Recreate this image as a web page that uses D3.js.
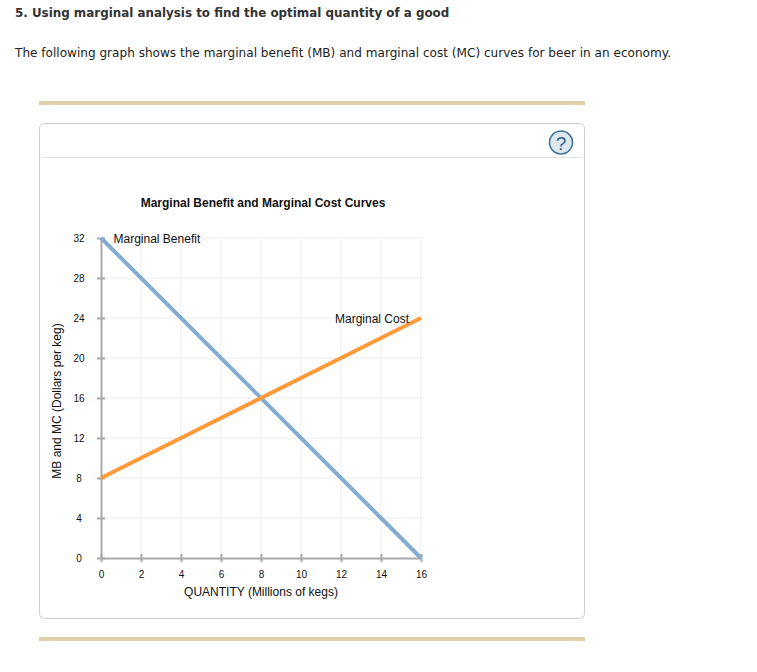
<!DOCTYPE html>
<html>
<head>
<meta charset="utf-8">
<script src="https://d3js.org/d3.v7.min.js"></script>
<style>
  html, body { margin: 0; padding: 0; background: #fff; }
  svg { display: block; }
</style>
</head>
<body>
<script>
var width = 757, height = 672;

var xTicks = [0, 2, 4, 6, 8, 10, 12, 14, 16];
var yTicks = [0, 4, 8, 12, 16, 20, 24, 28, 32];
var mbQuantity = [0, 16];
var mbValues = [32, 0];
var mcQuantity = [0, 16];
var mcValues = [8, 24];

var svg = d3.select("body").append("svg")
  .attr("width", width)
  .attr("height", height);

var page = "'DejaVu Sans', Verdana, sans-serif";
var chart = "'Liberation Sans', Arial, sans-serif";

// question text
svg.append("text").attr("x", 15).attr("y", 17)
  .attr("font-family", page).attr("font-size", 11.9).attr("font-weight", "bold")
  .attr("fill", "#333")
  .text("5. Using marginal analysis to find the optimal quantity of a good");

svg.append("text").attr("x", 15).attr("y", 57)
  .attr("font-family", page).attr("font-size", 12.08)
  .attr("fill", "#222")
  .text("The following graph shows the marginal benefit (MB) and marginal cost (MC) curves for beer in an economy.");

// tan rules
svg.append("rect").attr("x", 39).attr("y", 101).attr("width", 546).attr("height", 4).attr("fill", "#dccfa9");
svg.append("rect").attr("x", 39).attr("y", 637).attr("width", 546).attr("height", 4).attr("fill", "#dccfa9");

// panel
svg.append("rect").attr("x", 39.5).attr("y", 123.5).attr("width", 545).attr("height", 495).attr("rx", 5)
  .attr("fill", "#fff").attr("stroke", "#cfcfcf");
svg.append("line").attr("x1", 42).attr("x2", 582).attr("y1", 157.5).attr("y2", 157.5).attr("stroke", "#e2e2e2");

// help button
svg.append("circle").attr("cx", 561).attr("cy", 142.5).attr("r", 11.5)
  .attr("fill", "#dfe8ee").attr("stroke", "#3f7099").attr("stroke-width", 1.5);
svg.append("text").attr("x", 561).attr("y", 149.5).attr("text-anchor", "middle")
  .attr("font-family", chart).attr("font-size", 19).attr("fill", "#2f6190").text("?");

var x = d3.scaleLinear().domain([0, 16]).range([101, 421]);
var y = d3.scaleLinear().domain([0, 32]).range([558, 238]);

// grid
svg.append("g").selectAll("line").data(xTicks.slice(1)).enter().append("line")
  .attr("x1", function(d) { return x(d); }).attr("x2", function(d) { return x(d); })
  .attr("y1", y(32)).attr("y2", y(0))
  .attr("stroke", "#f3f3f3").attr("stroke-width", 1.5);
svg.append("g").selectAll("line").data(yTicks.slice(1)).enter().append("line")
  .attr("x1", x(0)).attr("x2", x(16))
  .attr("y1", function(d) { return y(d); }).attr("y2", function(d) { return y(d); })
  .attr("stroke", "#f3f3f3").attr("stroke-width", 1.5);

// axes
var xAxis = d3.axisBottom(x).tickValues(xTicks).tickSize(4).tickPadding(9).tickSizeOuter(0);
var yAxis = d3.axisLeft(y).tickValues(yTicks).tickSize(4).tickPadding(12).tickSizeOuter(0);

var gx = svg.append("g").attr("transform", "translate(0," + y(0) + ")").call(xAxis);
var gy = svg.append("g").attr("transform", "translate(" + x(0) + ",0)").call(yAxis);

[gx, gy].forEach(function(g) {
  g.select(".domain").attr("stroke", "#a9a9a9").attr("stroke-width", 2);
  g.selectAll(".tick line").attr("stroke", "#a9a9a9").attr("stroke-width", 2);
  g.selectAll(".tick text").attr("font-family", chart).attr("font-size", 10).attr("fill", "#111");
});
// ticks straddle the axis
gx.selectAll(".tick line").attr("y1", -4).attr("y2", 4);
gy.selectAll(".tick line").attr("x1", -4).attr("x2", 4);
// y labels are centred in their column
gy.selectAll(".tick text").attr("text-anchor", "middle").attr("x", -22);

// curves
var line = d3.line()
  .x(function(d) { return x(d[0]); })
  .y(function(d) { return y(d[1]); });

svg.append("path").attr("d", line(d3.zip(mbQuantity, mbValues)))
  .attr("fill", "none").attr("stroke", "#83acd0").attr("stroke-width", 4);
svg.append("path").attr("d", line(d3.zip(mcQuantity, mcValues)))
  .attr("fill", "none").attr("stroke", "#ff9a3d").attr("stroke-width", 4);

// labels
svg.append("text").attr("x", 263).attr("y", 207).attr("text-anchor", "middle")
  .attr("font-family", chart).attr("font-size", 12).attr("font-weight", "bold").attr("fill", "#111")
  .text("Marginal Benefit and Marginal Cost Curves");
svg.append("text").attr("x", 113.5).attr("y", 243)
  .attr("font-family", chart).attr("font-size", 12).attr("fill", "#111")
  .text("Marginal Benefit");
svg.append("text").attr("x", 335).attr("y", 323)
  .attr("font-family", chart).attr("font-size", 12).attr("fill", "#111")
  .text("Marginal Cost");
svg.append("text").attr("x", 261).attr("y", 596).attr("text-anchor", "middle")
  .attr("font-family", chart).attr("font-size", 12).attr("fill", "#111")
  .text("QUANTITY (Millions of kegs)");
svg.append("text").attr("transform", "translate(61,401) rotate(-90)").attr("text-anchor", "middle")
  .attr("font-family", chart).attr("font-size", 12).attr("fill", "#111")
  .text("MB and MC (Dollars per keg)");
</script>
</body>
</html>
